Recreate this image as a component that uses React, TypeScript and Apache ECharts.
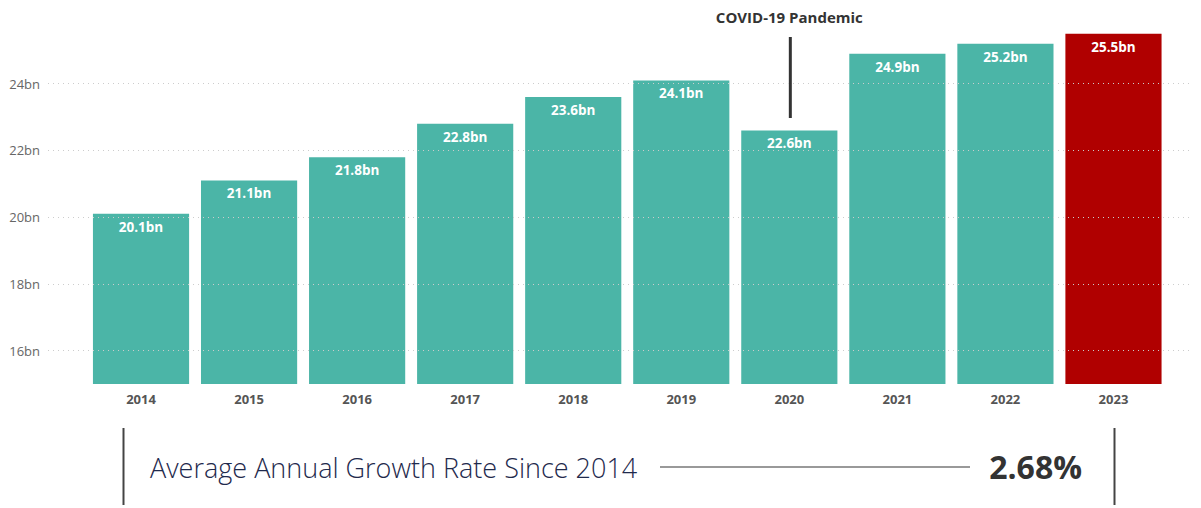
import React, { useEffect, useRef } from "react";
import * as echarts from "echarts";

const years = ["2014", "2015", "2016", "2017", "2018", "2019", "2020", "2021", "2022", "2023"];
const revenue = [20.1, 21.1, 21.8, 22.8, 23.6, 24.1, 22.6, 24.9, 25.2, 25.5];
const gridTicks = [16, 18, 20, 22, 24];
const highlightYear = "2023";
const annotationYear = "2020";
const annotationText = "COVID-19 Pandemic";
const kpiLabel = "Average Annual Growth Rate Since 2014";
const kpiValue = "2.68%";

const TEAL = "#4BB5A7";
const RED = "#B00000";
const FONT = "'Open Sans', 'Noto Sans', sans-serif";

export default function App() {
  const ref = useRef<HTMLDivElement>(null);
  useEffect(() => {
    if (!ref.current) return;
    const chart = echarts.init(ref.current, undefined, { renderer: "svg" });
    const top = 17;
    const bottom = 124;
    const yMin = 15;
    const yMax = 26;
    const annIdx = years.indexOf(annotationYear);
    const annX = 87 + (1080.5 / years.length) * (annIdx + 0.5);
    chart.setOption({
      animation: false,
      grid: [
        { left: 48, right: 8, top, bottom, containLabel: false },
        { left: 87, right: 33.5, top, bottom, containLabel: false },
      ],
      xAxis: [
        { type: "category", gridIndex: 0, data: years, show: false },
        {
          type: "category",
          gridIndex: 1,
          data: years,
          axisLine: { show: false },
          axisTick: { show: false },
          axisLabel: {
            color: "#555",
            fontWeight: "bold",
            fontSize: 13,
            fontFamily: FONT,
            margin: 8,
          },
        },
      ],
      yAxis: [
        {
          type: "value",
          gridIndex: 0,
          min: yMin,
          max: yMax,
          interval: 1,
          axisLine: { show: false },
          axisTick: { show: false },
          axisLabel: {
            formatter: (v: number) => (gridTicks.indexOf(v) >= 0 ? v + "bn" : ""),
            color: "#666",
            fontSize: 13,
            fontFamily: FONT,
            margin: 8,
          },
          splitLine: { show: false },
        },
        {
          type: "value",
          gridIndex: 1,
          min: yMin,
          max: yMax,
          show: false,
          splitLine: { show: false },
        },
      ],
      series: [
        {
          type: "line",
          xAxisIndex: 0,
          yAxisIndex: 0,
          data: [],
          markLine: {
            silent: true,
            symbol: "none",
            label: { show: false },
            lineStyle: { color: "#ccc", type: [1, 4], width: 1 },
            data: gridTicks.map((v) => ({ yAxis: v })),
          },
        },
        {
          type: "bar",
          xAxisIndex: 1,
          yAxisIndex: 1,
          barCategoryGap: "11%",
          data: revenue.map((v, i) => ({
            value: v,
            itemStyle: { color: years[i] === highlightYear ? RED : TEAL },
          })),
          label: {
            show: true,
            position: "insideTop",
            distance: 6,
            color: "#fff",
            fontWeight: "bold",
            fontSize: 13.5,
            fontFamily: FONT,
            formatter: (p: any) => p.value.toFixed(1) + "bn",
          },
        },
      ],
      graphic: [
        {
          type: "text",
          x: annX,
          y: 17,
          style: {
            text: annotationText,
            fill: "#333",
            font: `bold 15px ${FONT}`,
            textAlign: "center",
            textVerticalAlign: "middle",
          },
        },
        {
          type: "line",
          shape: { x1: annX + 1, y1: 37, x2: annX + 1, y2: 118 },
          style: { stroke: "#333", lineWidth: 3 },
        },
        {
          type: "line",
          shape: { x1: 123.5, y1: 428, x2: 123.5, y2: 505 },
          style: { stroke: "#444", lineWidth: 2 },
        },
        {
          type: "line",
          shape: { x1: 1114.5, y1: 428, x2: 1114.5, y2: 505 },
          style: { stroke: "#444", lineWidth: 2 },
        },
        {
          type: "text",
          x: 150,
          y: 467,
          style: {
            text: kpiLabel,
            fill: "#1f2a4d",
            font: `300 27px ${FONT}`,
            textAlign: "left",
            textVerticalAlign: "middle",
          },
        },
        {
          type: "line",
          shape: { x1: 660, y1: 467, x2: 970, y2: 467 },
          style: { stroke: "#777", lineWidth: 1.5 },
        },
        {
          type: "text",
          x: 1082,
          y: 466,
          style: {
            text: kpiValue,
            fill: "#333",
            font: `bold 32px ${FONT}`,
            textAlign: "right",
            textVerticalAlign: "middle",
          },
        },
      ],
    });
    return () => chart.dispose();
  }, []);
  return <div ref={ref} style={{ width: 1201, height: 508, position: "absolute", left: 0, top: 0, background: "#fff" }} />;
}
